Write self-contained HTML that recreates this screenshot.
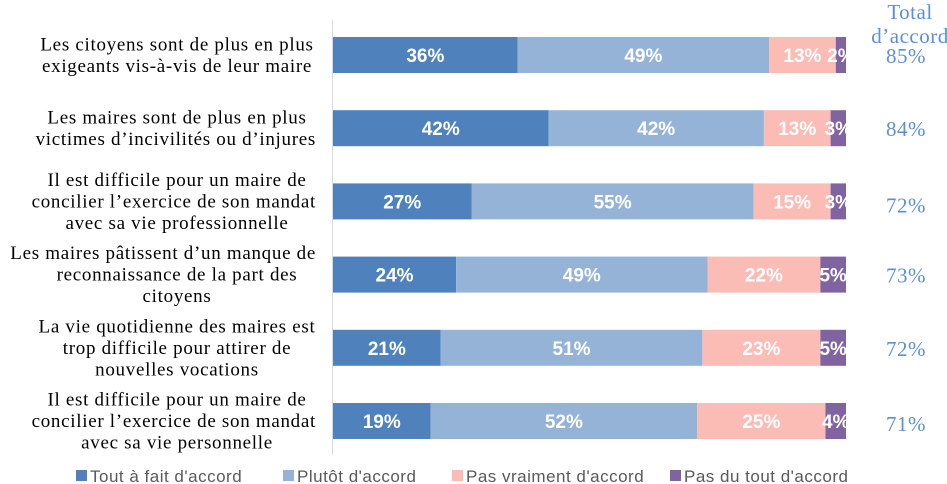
<!DOCTYPE html>
<html><head><meta charset="utf-8"><style>
body{margin:0;background:#fff;width:947px;height:484px;overflow:hidden}
svg{display:block}
</style></head><body>
<svg id="c" width="947" height="484">
<line x1="332.5" y1="20" x2="332.5" y2="455" stroke="#d9d9d9"/>
<g font-family="Liberation Serif, serif" font-size="21" fill="#5b8fd6" text-anchor="middle" letter-spacing="0.5">
<text x="910" y="19">Total</text><text x="910" y="43">d’accord</text></g>
<g id="bars"></g>
<g id="legend" font-family="Liberation Sans, sans-serif" font-size="17" fill="#595959" letter-spacing="0.5"></g>
</svg>
<script>
const categories=[
["Les citoyens sont de plus en plus","exigeants vis-à-vis de leur maire"],
["Les maires sont de plus en plus","victimes d’incivilités ou d’injures"],
["Il est difficile pour un maire de","concilier l’exercice de son mandat","avec sa vie professionnelle"],
["Les maires pâtissent d’un manque de","reconnaissance de la part des","citoyens"],
["La vie quotidienne des maires est","trop difficile pour attirer de","nouvelles vocations"],
["Il est difficile pour un maire de","concilier l’exercice de son mandat","avec sa vie personnelle"]];
const toutAFait=[36,42,27,24,21,19];
const plutot=[49,42,55,49,51,52];
const pasVraiment=[13,13,15,22,23,25];
const pasDuTout=[2,3,3,5,5,4];
const totals=[85,84,72,73,72,71];
const seriesNames=["Tout à fait d'accord","Plutôt d'accord","Pas vraiment d'accord","Pas du tout d'accord"];
const colors=["#4f81bd","#95b3d7","#fabcb5","#8064a2"];
const NS="http://www.w3.org/2000/svg";
const x0=333,w=513,rowTop=55,rowStep=73.2,bh=36;
const xs=v=>x0+v/100*w;
const ys=i=>rowTop+i*rowStep;
function mk(t,a,p){const e=document.createElementNS(NS,t);for(const k in a)e.setAttribute(k,a[k]);p.appendChild(e);return e;}
const g=document.getElementById('bars');
const series=[toutAFait,plutot,pasVraiment,pasDuTout];
categories.forEach((lines,i)=>{
  const cy=ys(i);
  const lab=mk('text',{'font-family':'Liberation Serif, serif','font-size':19,'letter-spacing':0.7,fill:'#000'},g);
  
  
  const n=lines.length, lh=21.5;
  lines.forEach((l,j)=>{
    const ts=mk('tspan',{x:177,y:cy+6+(j-(n-1)/2)*lh,'text-anchor':'middle'},lab);
    ts.textContent=l;
  });
  let acc=0;
  series.forEach((s,k)=>{
    const v=s[i];
    const r=mk('rect',{x:xs(acc),y:cy-bh/2,width:xs(acc+v)-xs(acc),height:bh,fill:colors[k]},g);
    
    
    const t=mk('text',{x:(xs(acc)+xs(acc+v))/2,y:cy+7,'text-anchor':'middle','font-family':'Liberation Sans, sans-serif','font-weight':'bold','font-size':19,fill:'#fff'},g);
    t.textContent=v+'%';
    
    
    acc+=v;
  });
  const tt=mk('text',{x:906,y:cy+(i==0?8:i==2?11:i==5?10:8),'text-anchor':'middle','font-family':'Liberation Serif, serif','font-size':21,'letter-spacing':0.5,fill:'#5b8fd6'},g);
  tt.textContent=totals[i]+'%';
  
  
});
// keep over-wide lines inside the label column
document.querySelectorAll('#bars tspan').forEach(ts=>{
  const b=ts.getComputedTextLength();
  if(177+b/2>316){ts.setAttribute('text-anchor','end');ts.setAttribute('x',316);}
});
const lg=document.getElementById('legend');
const lx=[76,283,452,670];
seriesNames.forEach((nm,k)=>{
  const r=mk('rect',{x:lx[k],y:470,width:11,height:11,fill:colors[k]},lg);
  
  
  const t=mk('text',{x:lx[k]+14,y:482},lg);
  t.textContent=nm;
  
  
});
</script>
</body></html>
